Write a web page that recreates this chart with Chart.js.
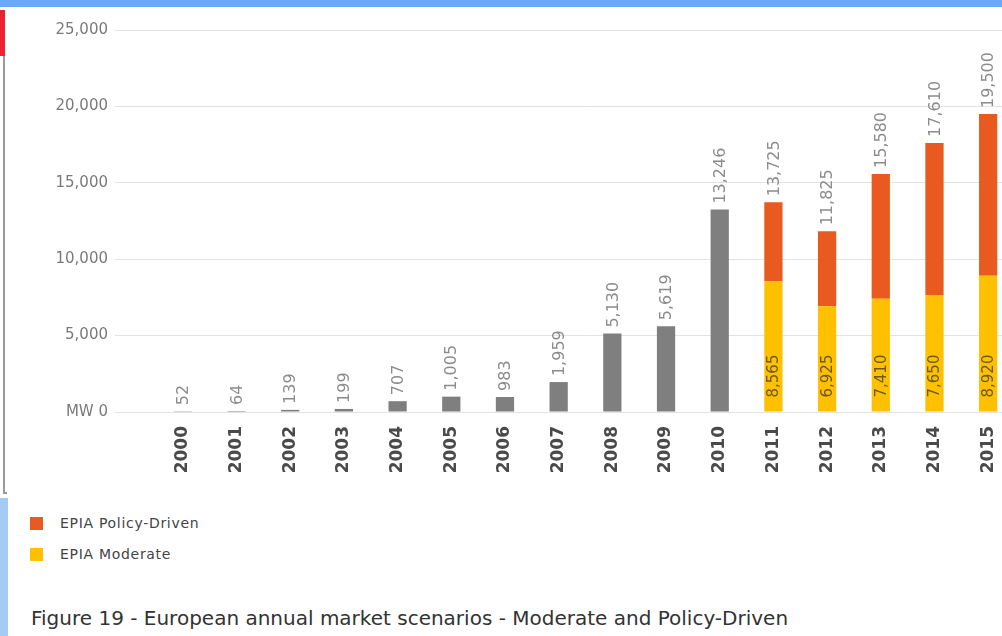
<!DOCTYPE html>
<html>
<head>
<meta charset="utf-8">
<script src="https://cdn.jsdelivr.net/npm/chart.js@4"></script>
<style>
  html, body { margin: 0; padding: 0; background: #fff; width: 1002px; height: 636px; overflow: hidden; position: relative; }
  #topbar { position: absolute; left: 0; top: 0; width: 1002px; height: 7px; background: #69a8fb; }
  #redmark { position: absolute; left: 0; top: 10px; width: 5px; height: 46px; background: #ec2230; }
  #grayline { position: absolute; left: 3px; top: 56px; width: 2px; height: 438px; background: #9a9a9a; }
  #graycorner { position: absolute; left: 3px; top: 492px; width: 4px; height: 2px; background: #9a9a9a; }
  #bluebar { position: absolute; left: 0; top: 498px; width: 8px; height: 138px; background: #a3cbf4; }
  #wrap { position: absolute; left: 0; top: 0; width: 1030px; height: 495px; }
  .leg { position: absolute; left: 30px; font: 14px "DejaVu Sans", sans-serif; letter-spacing: 0.7px; color: #444; }
  .leg span { display: inline-block; width: 13px; height: 13px; margin-right: 17px; vertical-align: -2px; }
  #caption { position: absolute; left: 31px; top: 606px; font: 20px "DejaVu Sans", sans-serif; color: #333; white-space: nowrap; }
</style>
</head>
<body>
<div id="topbar"></div>
<div id="redmark"></div>
<div id="grayline"></div>
<div id="graycorner"></div>
<div id="bluebar"></div>
<div id="wrap"><canvas id="chart"></canvas></div>
<div class="leg" style="top:515px"><span style="background:#e85a20"></span>EPIA Policy-Driven</div>
<div class="leg" style="top:546px"><span style="background:#ffc000"></span>EPIA Moderate</div>
<div id="caption">Figure 19 - European annual market scenarios - Moderate and Policy-Driven</div>
<script>
// Dados do gráfico (MW)
const years = ['2000','2001','2002','2003','2004','2005','2006','2007','2008','2009','2010','2011','2012','2013','2014','2015'];
const historical = [52, 64, 139, 199, 707, 1005, 983, 1959, 5130, 5619, 13246, null, null, null, null, null];
const moderate = [null, null, null, null, null, null, null, null, null, null, null, 8565, 6925, 7410, 7650, 8920];
const policyTotal = [null, null, null, null, null, null, null, null, null, null, null, 13725, 11825, 15580, 17610, 19500];
const yTicks = [0, 5000, 10000, 15000, 20000, 25000];

const policyExtra = policyTotal.map((v, i) => v === null ? null : v - moderate[i]);
const fmt = v => v.toLocaleString('en-US');

// Rótulos verticais sobre as barras
const barLabels = {
  id: 'barLabels',
  afterDatasetsDraw(chart) {
    const ctx = chart.ctx;
    ctx.save();
    years.forEach((y, i) => {
      let top, total;
      if (historical[i] !== null) {
        top = chart.getDatasetMeta(0).data[i];
        total = historical[i];
      } else {
        top = chart.getDatasetMeta(2).data[i];
        total = policyTotal[i];
      }
      ctx.save();
      ctx.translate(top.x, top.y - 6);
      ctx.rotate(-Math.PI / 2);
      ctx.font = '16px "DejaVu Sans", sans-serif';
      ctx.fillStyle = '#8c8c8c';
      ctx.textAlign = 'left';
      ctx.textBaseline = 'middle';
      ctx.fillText(fmt(total), 0, 1);
      ctx.restore();

      if (moderate[i] !== null) {
        const el = chart.getDatasetMeta(1).data[i];
        ctx.save();
        ctx.translate(el.x, el.base - 14);
        ctx.rotate(-Math.PI / 2);
        ctx.font = '15px "DejaVu Sans", sans-serif';
        ctx.fillStyle = '#6b5a1c';
        ctx.textAlign = 'left';
        ctx.textBaseline = 'middle';
        ctx.fillText(fmt(moderate[i]), 0, 1);
        ctx.restore();
      }
    });
    ctx.restore();
  }
};

const ctx = document.getElementById('chart').getContext('2d');
new Chart(ctx, {
  type: 'bar',
  data: {
    labels: years,
    datasets: [
      { label: 'Historical', data: historical, backgroundColor: '#7f7f7f' },
      { label: 'EPIA Moderate', data: moderate, backgroundColor: '#ffc000' },
      { label: 'EPIA Policy-Driven', data: policyExtra, backgroundColor: '#e85a20' }
    ]
  },
  options: {
    responsive: true,
    maintainAspectRatio: false,
    animation: false,
    layout: { padding: { top: 30, right: 15, left: 0, bottom: 0 } },
    datasets: { bar: { categoryPercentage: 1, barPercentage: 0.34, skipNull: false } },
    plugins: { legend: { display: false }, tooltip: { enabled: false } },
    scales: {
      x: {
        stacked: true,
        grid: { display: false },
        border: { display: false },
        ticks: {
          autoSkip: false, minRotation: 90, maxRotation: 90, padding: 6,
          color: '#4a4a4a',
          font: { family: 'DejaVu Sans', size: 17, weight: 'bold' }
        },
        afterFit: s => { s.height = 83; }
      },
      y: {
        stacked: true,
        min: 0, max: 25000,
        afterBuildTicks: s => { s.ticks = yTicks.map(v => ({ value: v })); },
        grid: { color: '#e2e2e2', lineWidth: 1, tickLength: 41 },
        border: { display: false },
        ticks: {
          padding: 7,
          color: '#7a7a7a',
          font: { family: 'DejaVu Sans', size: 15 },
          callback: v => v === 0 ? 'MW 0' : fmt(v)
        },
        afterFit: s => { s.width = 156; }
      }
    }
  },
  plugins: [barLabels]
});
</script>
</body>
</html>
